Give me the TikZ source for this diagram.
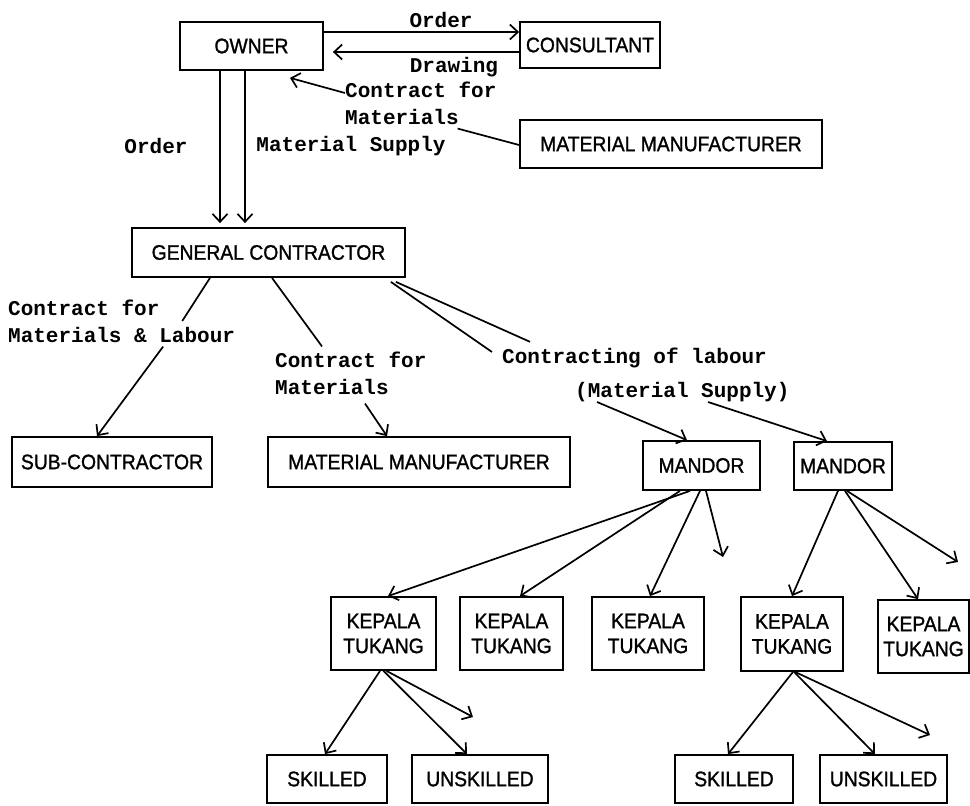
\documentclass[tikz,border=0pt]{standalone}
\usepackage{fontspec}
\setmainfont{Liberation Sans}
\newfontfamily\boxfont{Liberation Sans}[FakeBold=1.2,FakeStretch=0.92]
\newfontfamily\typefont{Liberation Mono}
\usetikzlibrary{arrows.meta}

\begin{document}
\begin{tikzpicture}[x=1pt,y=-1pt,
  box/.style={draw,line width=1.8pt,inner sep=0pt,align=center,font=\boxfont\fontsize{21}{25}\selectfont},
  lbl/.style={inner sep=0pt,align=left,font=\typefont\bfseries\fontsize{21}{27}\selectfont},
  ln/.style={line width=1.7pt},
  arr/.style={ln,-{Straight Barb[length=8pt,width=15pt,line width=1.7pt]}}]
  \useasboundingbox (0,0) rectangle (970,806);

  % boxes
  \node[box,minimum width=143pt,minimum height=48pt] (Owner)   at (251.5,46)  {OWNER};
  \node[box,minimum width=140pt,minimum height=46pt] (Consult) at (590,45)    {CONSULTANT};
  \node[box,minimum width=302pt,minimum height=48pt] (MatTop)  at (671,144)   {MATERIAL MANUFACTURER};
  \node[box,minimum width=273pt,minimum height=49pt] (GenC)    at (268.5,252.5) {GENERAL CONTRACTOR};
  \node[box,minimum width=200pt,minimum height=50pt] (SubC)    at (112,462)   {SUB-CONTRACTOR};
  \node[box,minimum width=302pt,minimum height=50pt] (MatMid)  at (419,462)   {MATERIAL MANUFACTURER};
  \node[box,minimum width=117pt,minimum height=49pt] (MandorA) at (701.5,465.5) {MANDOR};
  \node[box,minimum width=98pt,minimum height=48pt]  (MandorB) at (843,466)   {MANDOR};
  \node[box,minimum width=105pt,minimum height=73pt] (KepalaA) at (383.5,633.5) {KEPALA\\TUKANG};
  \node[box,minimum width=103pt,minimum height=73pt] (KepalaB) at (511.5,633.5) {KEPALA\\TUKANG};
  \node[box,minimum width=112pt,minimum height=73pt] (KepalaC) at (648,633.5) {KEPALA\\TUKANG};
  \node[box,minimum width=102pt,minimum height=74pt] (KepalaD) at (792,634)   {KEPALA\\TUKANG};
  \node[box,minimum width=91pt,minimum height=73pt]  (KepalaE) at (923.5,636.5) {KEPALA\\TUKANG};
  \node[box,minimum width=120pt,minimum height=48pt] (SkillA)   at (327,779)   {SKILLED};
  \node[box,minimum width=136pt,minimum height=48pt] (UnskillA) at (480,779)   {UNSKILLED};
  \node[box,minimum width=118pt,minimum height=48pt] (SkillB)   at (734,779)   {SKILLED};
  \node[box,minimum width=127pt,minimum height=48pt] (UnskillB) at (883.5,779) {UNSKILLED};

  % labels
  \node[lbl,anchor=west] (lCfmTop) at (345,103) {Contract for\\Materials};
  \node[lbl] (lOrderV)  at (156,146) {Order};
  \node[lbl] (lSupply)  at (351,146) {Material Supply};
  \node[lbl,anchor=west] (lCfmLab) at (8,321)   {Contract for\\Materials \& Labour};
  \node[lbl,anchor=west] (lCfmMid) at (275,373) {Contract for\\Materials};
  \node[lbl,anchor=west] (lLabour) at (502,358) {Contracting of labour};
  \node[lbl,anchor=west] (lLabSup) at (575,392) {(Material Supply)};

  \coordinate (fA) at (723,557);
  \coordinate (fB) at (958,562);
  \coordinate (fC) at (473,717);
  \coordinate (fD) at (930,735);

  % owner level
  \draw[arr] ([yshift=14pt]Owner.east) -- ([yshift=13pt]Consult.west)
    node[lbl,pos=0.6,above=3pt] (lOrderH) {Order};
  \draw[arr] ([yshift=-7pt]Consult.west) -- ([yshift=-6pt,xshift=9pt]Owner.east)
    node[lbl,pos=0.35,below=4pt] (lDrawing) {Drawing};
  \draw[ln] ([yshift=-1pt]MatTop.west) -- ([xshift=-39pt,yshift=-4pt]lCfmTop.south east);
  \draw[arr] ([yshift=10pt]lCfmTop.west) -- ([xshift=38.5pt,yshift=-7pt]Owner.south);
  \draw[arr,shorten >=4pt] ([xshift=-31.5pt]Owner.south) -- ([xshift=-48.5pt]GenC.north);
  \draw[arr,shorten >=4pt] ([xshift=-6.5pt]Owner.south) -- ([xshift=-23.5pt]GenC.north);

  % general contractor
  \draw[ln] ([xshift=-58.5pt]GenC.south) -- ([xshift=-53pt]lCfmLab.east);
  \draw[arr] ([xshift=41.5pt,yshift=-4pt]lCfmLab.south) -- ([xshift=-15pt]SubC.north);
  \draw[ln] ([xshift=3.5pt]GenC.south) -- ([xshift=47pt,yshift=5pt]lCfmMid.north west);
  \draw[arr] ([xshift=90pt,yshift=-9pt]lCfmMid.south west) -- ([xshift=-32pt]MatMid.north);
  \draw[ln] ([xshift=-10pt,yshift=-4pt]GenC.south east) -- ([xshift=28pt,yshift=6pt]lLabour.north west);
  \draw[ln] ([xshift=-15pt,yshift=-4pt]GenC.south east) -- ([xshift=-10pt,yshift=6pt]lLabour.west);
  \draw[arr] ([xshift=22pt]lLabSup.south west) -- ([xshift=-14.5pt]MandorA.north);
  \draw[arr] ([xshift=133pt]lLabSup.south west) -- ([xshift=-16pt]MandorB.north);

  % mandor
  \draw[arr] ([xshift=-11.5pt]MandorA.south) -- ([xshift=4.5pt]KepalaA.north);
  \draw[arr] ([xshift=-21.5pt]MandorA.south) -- ([xshift=8.5pt]KepalaB.north);
  \draw[arr] ([xshift=-1.5pt]MandorA.south) -- ([xshift=2pt]KepalaC.north);
  \draw[arr] ([xshift=4.5pt]MandorA.south) -- (fA);
  \draw[arr] ([xshift=-5pt]MandorB.south) -- (KepalaD.north);
  \draw[arr] ([xshift=2pt]MandorB.south) -- ([xshift=-5.5pt]KepalaE.north);
  \draw[arr] ([xshift=4pt]MandorB.south) -- (fB);

  % kepala tukang
  \draw[arr] ([xshift=-3.5pt]KepalaA.south) -- ([xshift=-2pt]SkillA.north);
  \draw[arr] (KepalaA.south) -- ([xshift=-13pt]UnskillA.north);
  \draw[arr] ([xshift=3pt]KepalaA.south) -- (fC);
  \draw[arr] ([xshift=1pt]KepalaD.south) -- ([xshift=-6pt]SkillB.north);
  \draw[arr] ([xshift=2pt]KepalaD.south) -- ([xshift=-8.5pt]UnskillB.north);
  \draw[arr] ([xshift=3pt]KepalaD.south) -- (fD);
\end{tikzpicture}
\end{document}
